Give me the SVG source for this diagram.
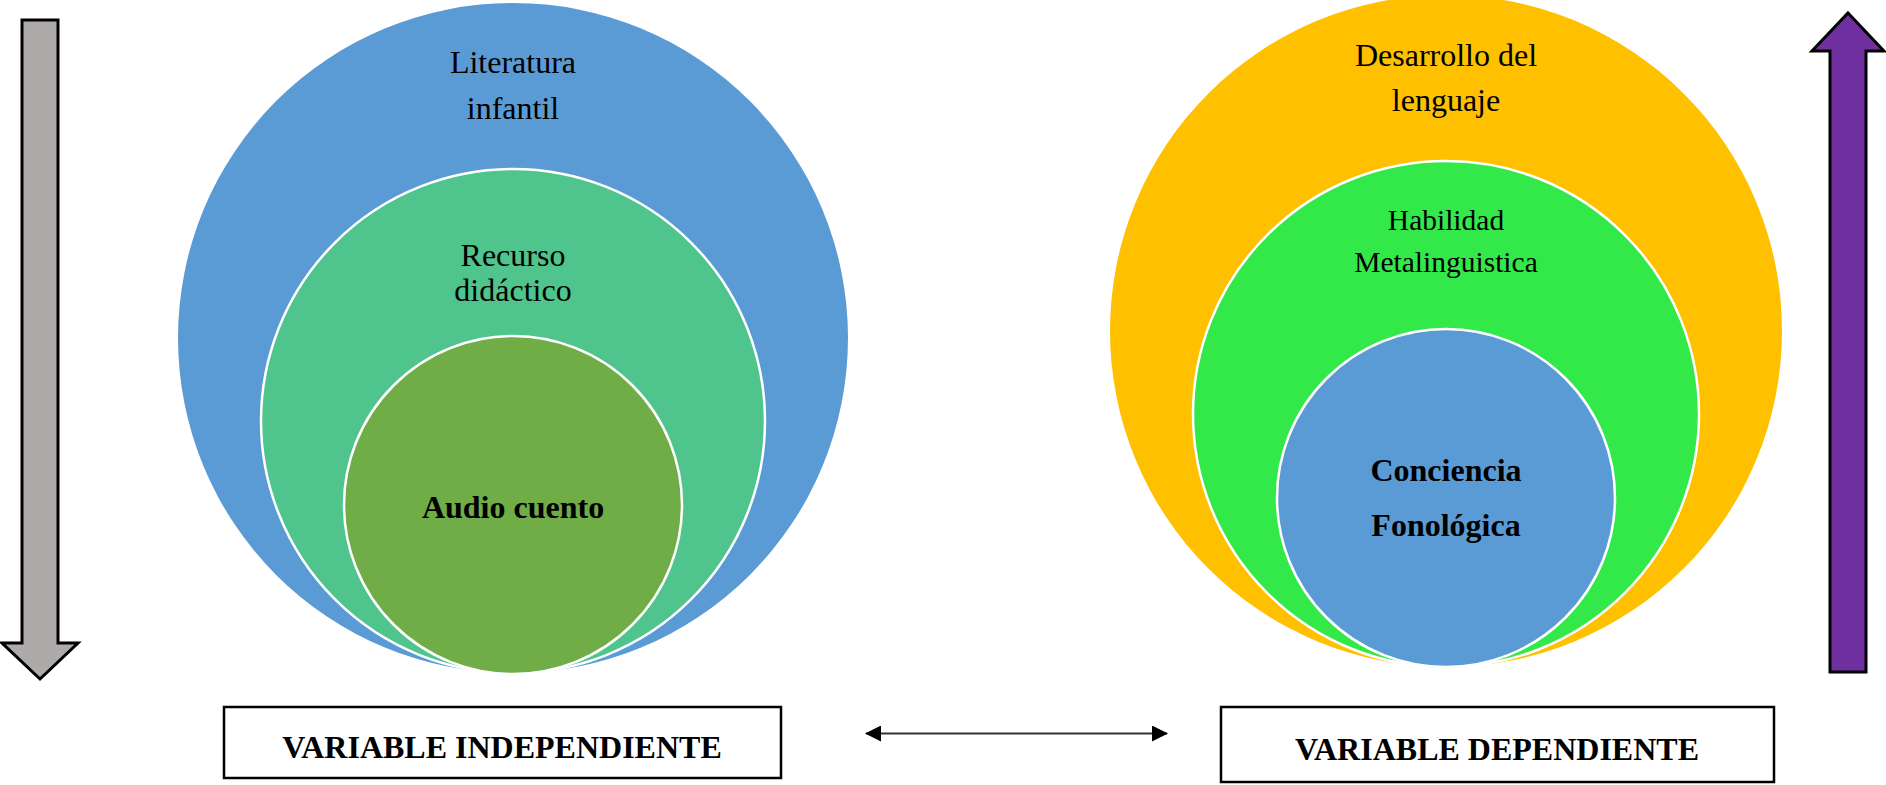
<svg xmlns="http://www.w3.org/2000/svg" width="1886" height="785" viewBox="0 0 1886 785">
<style>
text{font-family:"Liberation Serif","Times New Roman",serif;fill:#000;text-anchor:middle}
.r{font-size:32px}
.s{font-size:29.5px}
.b{font-size:32px;font-weight:bold}
.inner{stroke:#fff;stroke-width:2.5}
.box{fill:#fff;stroke:#000;stroke-width:2.5}
.blk{stroke:#000;stroke-width:3;stroke-linejoin:miter}
</style>
<defs>
<marker id="ah" viewBox="0 0 16 16" refX="15" refY="8" markerWidth="16" markerHeight="16" markerUnits="userSpaceOnUse" orient="auto-start-reverse">
<path d="M0,0 L16,8 L0,16 Z" fill="#000"/>
</marker>
</defs>
<rect width="1886" height="785" fill="#fff"/>
<g id="arrow-down">
<polygon class="blk" fill="#AEAAAA" points="22,20 58,20 58,643 78,643 40,679 2,643 22,643"/>
</g>
<g id="arrow-up">
<polygon class="blk" fill="#7030A0" points="1848,13 1884,51 1866,51 1866,672 1830,672 1830,51 1812,51"/>
</g>
<g id="literatura-infantil">
<circle cx="513" cy="338" r="335" fill="#5B9BD5"/>
<text class="r" x="513" y="73">Literatura</text>
<text class="r" x="513" y="119">infantil</text>
</g>
<g id="recurso-didactico">
<circle class="inner" cx="513" cy="421" r="252" fill="#4FC58D"/>
<text class="r" x="513" y="266">Recurso</text>
<text class="r" x="513" y="301">didáctico</text>
</g>
<g id="audio-cuento">
<circle class="inner" cx="513" cy="505" r="169" fill="#70AD47"/>
<text class="b" x="513" y="518">Audio cuento</text>
</g>
<g id="desarrollo-lenguaje">
<circle cx="1446" cy="331" r="336" fill="#FFC000"/>
<text class="r" x="1446" y="66">Desarrollo del</text>
<text class="r" x="1446" y="111">lenguaje</text>
</g>
<g id="habilidad-metalinguistica">
<circle class="inner" cx="1446" cy="414" r="253" fill="#33E849"/>
<text class="s" x="1446" y="230">Habilidad</text>
<text class="s" x="1446" y="272">Metalinguistica</text>
</g>
<g id="conciencia-fonologica">
<circle class="inner" cx="1446" cy="498" r="169" fill="#5B9BD5"/>
<text class="b" x="1446" y="481">Conciencia</text>
<text class="b" x="1446" y="536">Fonológica</text>
</g>
<g id="variable-independiente">
<rect class="box" x="224" y="707" width="557" height="71"/>
<text class="b" x="502" y="758">VARIABLE INDEPENDIENTE</text>
</g>
<g id="variable-dependiente">
<rect class="box" x="1221" y="707" width="553" height="75"/>
<text class="b" x="1497" y="760">VARIABLE DEPENDIENTE</text>
</g>
<g id="connectors">
<line x1="866" y1="733.5" x2="1167" y2="733.5" stroke="#333" stroke-width="2" marker-start="url(#ah)" marker-end="url(#ah)"/>
</g>
</svg>
